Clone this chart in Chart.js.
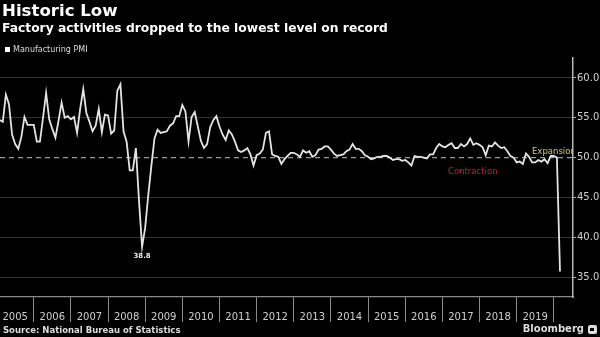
<!DOCTYPE html>
<html>
<head>
<meta charset="utf-8">
<script src="https://cdn.jsdelivr.net/npm/chart.js@4.4.1/dist/chart.umd.min.js"></script>
<style>
  html, body { margin: 0; padding: 0; background: #000; }
  #wrap { position: relative; width: 600px; height: 337px; overflow: hidden; background: #000; font-family: 'DejaVu Sans', sans-serif; }
  #chart { position: absolute; left: 0; top: 0; }
  .txt { position: absolute; white-space: nowrap; }
  #title { left: 2px; top: 2px; font-size: 16.6px; line-height: 18px; font-weight: bold; color: #fff; }
  #subtitle { left: 2px; top: 21px; font-size: 12.3px; line-height: 14px; font-weight: bold; color: #fff; }
  #legend { left: 5px; top: 46px; font-size: 8px; line-height: 8px; color: #ddd; }
  #legend i { display: inline-block; width: 5px; height: 5px; background: #fff; margin-right: 3px; }
  #source { left: 3px; top: 325px; font-size: 8.5px; line-height: 10px; font-weight: bold; color: #ddd; }
  #brand { right: 3px; top: 323px; font-size: 10px; line-height: 12px; font-weight: bold; color: #ddd; display: flex; align-items: center; }
  #brand b { display: inline-block; width: 9px; height: 9px; background: #ddd; border-radius: 2px; margin-left: 4px; position: relative; }
  #brand b::after { content: ''; position: absolute; left: 2px; top: 3px; width: 4px; height: 3px; background: #000; }
</style>
</head>
<body>
<div id="wrap">
  <canvas id="chart" width="600" height="337"></canvas>
  <div class="txt" id="title">Historic Low</div>
  <div class="txt" id="subtitle">Factory activities dropped to the lowest level on record</div>
  <div class="txt" id="legend"><i></i>Manufacturing PMI</div>
  <div class="txt" id="source">Source: National Bureau of Statistics</div>
  <div class="txt" id="brand">Bloomberg<b></b></div>
</div>
<script>
// ════════════════════════════════════════
// DATA — NBS manufacturing PMI, monthly from Jan 2005
// ════════════════════════════════════════

const START_YEAR = 2005;
const YEAR_LABELS = ['2005', '2006', '2007', '2008', '2009', '2010', '2011', '2012',
                     '2013', '2014', '2015', '2016', '2017', '2018', '2019'];

const PMI = [
    54.7, 54.5, 57.9, 56.7, 52.9, 51.7, 51.1, 52.6, 55.1, 54.1, 54.1, 54.1, // 2005
    52.0, 52.0, 55.0, 58.1, 54.8, 53.6, 52.5, 54.6, 56.9, 55.0, 55.2, 54.8, // 2006
    55.1, 53.1, 56.1, 58.6, 55.6, 54.5, 53.3, 54.0, 56.1, 53.2, 55.4, 55.3, // 2007
    53.0, 53.4, 58.4, 59.2, 53.3, 52.0, 48.4, 48.4, 51.2, 44.6, 38.8, 41.2, // 2008
    45.3, 49.0, 52.4, 53.5, 53.1, 53.2, 53.3, 54.0, 54.3, 55.2, 55.2, 56.6, // 2009
    55.8, 52.0, 55.1, 55.7, 53.9, 52.1, 51.2, 51.7, 53.8, 54.7, 55.2, 53.9, // 2010
    52.9, 52.2, 53.4, 52.9, 52.0, 50.9, 50.7, 50.9, 51.2, 50.4, 49.0, 50.3, // 2011
    50.5, 51.0, 53.1, 53.3, 50.4, 50.2, 50.1, 49.2, 49.8, 50.2, 50.6, 50.6, // 2012
    50.4, 50.1, 50.9, 50.6, 50.8, 50.1, 50.3, 51.0, 51.1, 51.4, 51.4, 51.0, // 2013
    50.5, 50.2, 50.3, 50.4, 50.8, 51.0, 51.7, 51.1, 51.1, 50.8, 50.3, 50.1, // 2014
    49.8, 49.9, 50.1, 50.1, 50.2, 50.2, 50.0, 49.7, 49.8, 49.8, 49.6, 49.7, // 2015
    49.4, 49.0, 50.2, 50.1, 50.1, 50.0, 49.9, 50.4, 50.4, 51.2, 51.7, 51.4, // 2016
    51.3, 51.6, 51.8, 51.2, 51.2, 51.7, 51.4, 51.7, 52.4, 51.6, 51.8, 51.6, // 2017
    51.3, 50.3, 51.5, 51.4, 51.9, 51.5, 51.2, 51.3, 50.8, 50.2, 50.0, 49.4, // 2018
    49.5, 49.2, 50.5, 50.1, 49.4, 49.4, 49.7, 49.5, 49.8, 49.3, 50.2, 50.2, // 2019
    50.0, 35.7                                                              // 2020
];

const Y_TICKS = [35, 40, 45, 50, 55, 60];
const THRESHOLD = 50;

// axis window, in months since the start of 2005 (points sit at month end)
const X_MIN = 1.1;
const X_MAX = 186.2;
const Y_MIN = 32.5;
const Y_MAX = 62.5;

const FONT = "'DejaVu Sans', sans-serif";
const COLORS = {
    line:      '#e4e4e4',
    grid:      '#303030',
    dash:      '#9a9a9a',
    axis:      '#8a8a8a',
    yAxis:     '#b8b8b8',
    tickText:  '#cfcfcf',
    expansion: '#cfc77a',
    contraction: '#b8233f',
};

// ════════════════════════════════════════
// TICKS: year separators at 12k, year names centred at 12k+6
// ════════════════════════════════════════

const X_TICKS = [];
YEAR_LABELS.forEach((_, i) => {
    X_TICKS.push(i * 12 + 6);
    X_TICKS.push((i + 1) * 12);
});

const isSeparator = v => v % 12 === 0;

// ════════════════════════════════════════
// ANNOTATIONS
// ════════════════════════════════════════

// the 2008 trough, lowest reading before 2020
const preCrisis = PMI.slice(0, (2020 - START_YEAR) * 12);
const TROUGH_INDEX = preCrisis.indexOf(Math.min(...preCrisis));

const notesPlugin = {
    id: 'notes',
    afterDatasetsDraw(chart) {
        const { ctx, chartArea, scales: { y } } = chart;
        const pt = chart.getDatasetMeta(0).data[TROUGH_INDEX];
        const y50 = y.getPixelForValue(THRESHOLD);

        ctx.save();
        ctx.fillStyle = '#e8e8e8';
        ctx.font = `bold 7px ${FONT}`;
        ctx.textAlign = 'center';
        ctx.textBaseline = 'top';
        ctx.fillText(PMI[TROUGH_INDEX].toFixed(1), pt.x, pt.y + 6);

        ctx.beginPath();
        ctx.rect(chartArea.left, chartArea.top, chartArea.right - chartArea.left, chartArea.bottom - chartArea.top);
        ctx.clip();
        ctx.font = `8.5px ${FONT}`;
        ctx.textAlign = 'left';
        ctx.textBaseline = 'middle';
        ctx.fillStyle = COLORS.expansion;
        ctx.fillText('Expansion', chartArea.right - 41, y50 - 6);
        ctx.fillStyle = COLORS.contraction;
        ctx.fillText('Contraction', chartArea.right - 125, y50 + 14);
        ctx.restore();
    },
};

// ════════════════════════════════════════
// CHART
// ════════════════════════════════════════

new Chart(document.getElementById('chart'), {
    type: 'line',
    data: {
        datasets: [
            {
                label: 'Manufacturing PMI',
                data: PMI.map((v, i) => ({ x: i + 1, y: v })),
                borderColor: COLORS.line,
                borderWidth: 1.8,
                pointRadius: 0,
                tension: 0,
            },
            {
                label: 'Threshold',
                data: [{ x: X_MIN, y: THRESHOLD }, { x: X_MAX, y: THRESHOLD }],
                borderColor: COLORS.dash,
                borderWidth: 1.2,
                borderDash: [5, 4],
                pointRadius: 0,
            },
        ],
    },
    options: {
        responsive: false,
        animation: false,
        devicePixelRatio: 1,
        layout: { padding: { top: 58, left: 0, right: 0, bottom: 0 } },
        plugins: {
            legend: { display: false },
            tooltip: { enabled: false },
        },
        scales: {
            x: {
                type: 'linear',
                min: X_MIN,
                max: X_MAX,
                afterBuildTicks: s => { s.ticks = X_TICKS.map(value => ({ value })); },
                afterFit: s => { s.height = 40; },
                ticks: {
                    autoSkip: false,
                    maxRotation: 0,
                    padding: -11,
                    color: COLORS.tickText,
                    font: { family: FONT, size: 10 },
                    callback: v => isSeparator(v) ? '' : YEAR_LABELS[(v - 6) / 12],
                },
                grid: {
                    drawOnChartArea: false,
                    tickLength: 25,
                    tickWidth: 1,
                    color: c => (c.tick && isSeparator(c.tick.value)) ? COLORS.axis : 'rgba(0,0,0,0)',
                },
                border: { color: COLORS.axis, width: 1.2 },
            },
            y: {
                position: 'right',
                min: Y_MIN,
                max: Y_MAX,
                afterBuildTicks: s => { s.ticks = Y_TICKS.map(value => ({ value })); },
                afterFit: s => { s.width = 27; },
                ticks: {
                    padding: 1,
                    color: COLORS.tickText,
                    font: { family: FONT, size: 10 },
                    callback: v => v.toFixed(1),
                },
                grid: {
                    color: c => (c.tick && c.tick.value === THRESHOLD) ? 'rgba(0,0,0,0)' : COLORS.grid,
                    tickColor: COLORS.yAxis,
                    tickLength: 3,
                    lineWidth: 1,
                },
                border: { color: COLORS.yAxis, width: 1.5 },
            },
        },
    },
    plugins: [notesPlugin],
});
</script>
</body>
</html>
